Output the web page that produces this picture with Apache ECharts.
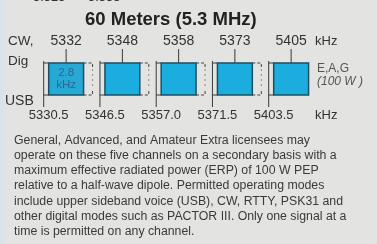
<!DOCTYPE html>
<html lang="en">
<head>
<meta charset="UTF-8"/>
<title>60 Meters</title>
<script src="https://cdn.jsdelivr.net/npm/echarts@6/dist/echarts.min.js"></script>
<style>
  html, body { margin: 0; padding: 0; background: #e3e3e1; }
  #chart { width: 377px; height: 244px; }
</style>
</head>
<body>
<div id="chart"></div>
<script type="text/javascript">
    // channel centre frequencies (kHz), shown above the boxes
    var channels = ['5332', '5348', '5358', '5373', '5405'];
    // lower edge of each channel (kHz), shown below the boxes
    var lowerEdges = ['5330.5', '5346.5', '5357.0', '5371.5', '5403.5'];
    // bandwidth note, only drawn in the first box
    var bwNotes = ['2.8\nkHz', '', '', '', ''];

    var notes = [
        'General, Advanced, and Amateur Extra licensees may',
        'operate on these five channels on a secondary basis with a',
        'maximum effective radiated power (ERP) of 100 W PEP',
        'relative to a half-wave dipole. Permitted operating modes',
        'include upper sideband voice (USB), CW, RTTY, PSK31 and',
        'other digital modes such as PACTOR III. Only one signal at a',
        'time is permitted on any channel.'
    ];

    var font = '"Liberation Sans", Arial, sans-serif';
    var ink = '#333';

    var myChart = echarts.init(document.getElementById('chart'));

    function renderChannel(params, api) {
        var i = api.value(0);
        var top = api.coord([i, 1]);
        var bot = api.coord([i, 0]);
        var band = api.size([1, 0])[0];
        var w = band * 0.62;
        var cx = top[0], L = cx - w / 2, R = cx + w / 2;
        var y0 = top[1], y1 = bot[1];
        var line = {stroke: '#3a3a3a', lineWidth: 1};
        var dash = {stroke: '#444', lineWidth: 1, fill: null, lineDash: [3, 2]};
        var kids = [
            // tick from the centre label down to the box
            {type: 'line', shape: {x1: cx, y1: y0 - 14, x2: cx, y2: y0}, style: line},
            // lower edge marker
            {type: 'line', shape: {x1: L - 5, y1: y0 - 2, x2: L - 5, y2: y1 + 12}, style: line},
            {type: 'line', shape: {x1: L - 5, y1: y0, x2: L, y2: y0}, style: line},
            {type: 'line', shape: {x1: L - 5, y1: y1, x2: L, y2: y1}, style: line},
            {
                type: 'rect',
                shape: {x: L, y: y0, width: w, height: y1 - y0},
                style: {fill: i === 0 ? '#27a9d6' : '#1badde', stroke: '#1d4f60', lineWidth: 1.5}
            },
            {
                type: 'text',
                style: {
                    x: cx, y: (y0 + y1) / 2, text: bwNotes[i],
                    align: 'center', verticalAlign: 'middle',
                    font: '11.5px ' + font, fill: '#2f6690', lineHeight: 12
                }
            },
            {
                type: 'text',
                style: {
                    x: L, y: y1 + 20, text: lowerEdges[i],
                    align: 'center', verticalAlign: 'middle',
                    font: '13px ' + font, fill: ink
                }
            }
        ];
        if (i < channels.length - 1) {
            kids.push(
                {type: 'polyline', shape: {points: [[R, y0], [R + 9, y0], [R + 9, y0 + 6]]}, style: dash},
                {type: 'polyline', shape: {points: [[R, y1], [R + 9, y1], [R + 9, y1 - 6]]}, style: dash},
                {type: 'line', shape: {x1: R + 9, y1: y0 + 6, x2: R + 9, y2: y1 - 6},
                    style: {stroke: '#777', lineWidth: 0.8, lineDash: [2, 3]}}
            );
        }
        return {type: 'group', children: kids};
    }

    function txt(x, y, text, size, extra) {
        var s = {
            x: x, y: y, text: text, fill: ink,
            font: size + 'px ' + font, verticalAlign: 'middle'
        };
        for (var k in extra) s[k] = extra[k];
        return {type: 'text', style: s};
    }

    var graphics = [
        {type: 'rect', shape: {x: 0, y: 0, width: 4, height: 244}, style: {fill: '#d8e3ec'}},
        // cut-off line above the title
        txt(33, -2.5, '5.325', 13, {}),
        txt(88, -2.5, '5.333', 13, {}),
        txt(85, 20, '60 Meters (5.3 MHz)', 18.5, {font: 'bold 18.5px ' + font, fill: '#222'}),
        txt(8, 41, 'CW,', 13.5, {}),
        txt(8, 61, 'Dig', 13.5, {}),
        txt(5, 101, 'USB', 14, {}),
        txt(315, 41, 'kHz', 13, {}),
        txt(315, 115, 'kHz', 13, {}),
        txt(317, 69, 'E,A,G', 12, {fill: '#555'}),
        txt(317, 82, '(100 W )', 12, {fill: '#555', font: 'italic 12px ' + font}),
        txt(14, 140, notes.join('\n'), 12.3, {
            verticalAlign: 'top', y: 132.5, lineHeight: 15.3, fill: '#3a3a3a'
        })
    ];

    var option = {
        backgroundColor: '#e3e3e1',
        animation: false,
        grid: {left: 38, top: 63, width: 281.25, height: 32},
        xAxis: {
            type: 'category',
            position: 'top',
            data: channels,
            axisLine: {show: false},
            axisTick: {show: false},
            axisLabel: {margin: 15, fontSize: 14, color: ink, fontFamily: font}
        },
        yAxis: {type: 'value', min: 0, max: 1, show: false},
        series: [{
            type: 'custom',
            renderItem: renderChannel,
            data: channels.map(function (c, i) { return [i, 1]; })
        }],
        graphic: graphics
    };

    myChart.setOption(option);
</script>
</body>
</html>
